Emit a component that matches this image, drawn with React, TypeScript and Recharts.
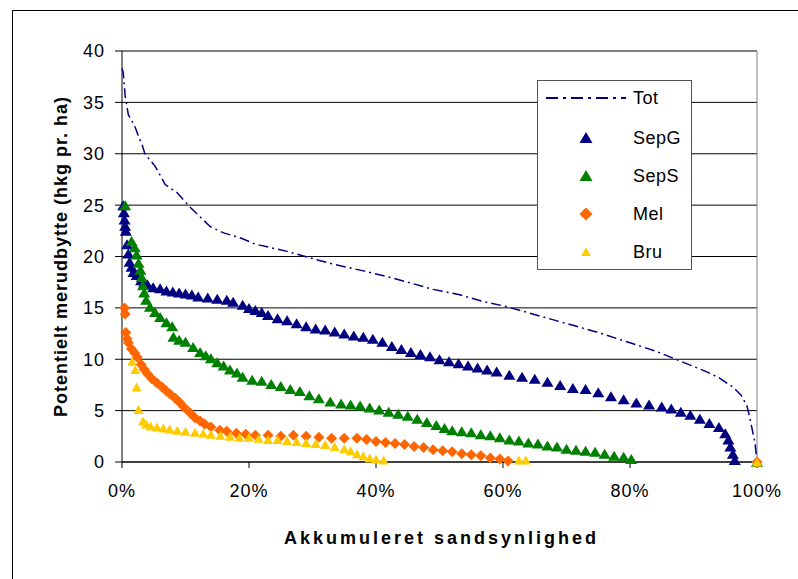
import { ScatterChart, Scatter, XAxis, YAxis, CartesianGrid, ReferenceLine } from 'recharts';

// Akkumuleret sandsynlighed (%) , merudbytte (hkg pr. ha)
const tot: [number, number][] = [
  [0, 38.3], [0.2, 37.9], [0.5, 35.6], [1, 33.8], [2, 32.7], [2.6, 31.7], [3.2, 30.8], [3.6, 30],
  [5.2, 28.8], [6.8, 27], [8.7, 26.2], [10.4, 25], [13.9, 22.9], [16, 22.3], [18.7, 21.8], [21, 21.2],
  [26, 20.5], [30, 19.8], [33, 19.3], [38, 18.6], [42, 18], [45, 17.5], [49, 16.8], [53, 16.3],
  [57, 15.6], [60, 15.2], [63, 14.7], [67, 14], [71, 13.3], [75, 12.6], [80, 11.6], [84, 10.8],
  [88, 9.8], [92, 8.8], [94, 8.2], [96.2, 7.3], [97.5, 6.5], [98.4, 5.5], [98.8, 4.5], [99.3, 3],
  [99.7, 1.8], [100, 0],
];

const sepG: [number, number][] = [
  [0.2, 25], [0.3, 24.3], [0.4, 23.6], [0.5, 23], [0.6, 22.5], [0.8, 21.2], [1, 20.3], [1.2, 19.5],
  [1.5, 19], [1.8, 18.5], [2.3, 18.2], [3, 17.7], [3.5, 17.5], [4, 17.3], [4.9, 17], [6, 16.9],
  [7, 16.7], [8, 16.6], [9, 16.5], [10, 16.4], [11, 16.3], [12, 16.1], [13.5, 16], [15, 15.9],
  [16.5, 15.8], [17.5, 15.6], [19, 15.3], [20, 15], [21, 14.8], [22, 14.6], [23, 14.3], [24.5, 14],
  [26, 13.8], [27.5, 13.5], [29, 13.2], [30.5, 13], [32, 12.9], [33.5, 12.7], [35, 12.5], [36.5, 12.3],
  [38, 12.2], [39.5, 12], [41, 11.7], [42.5, 11.3], [44, 11], [45.5, 10.7], [47, 10.5], [48.5, 10.3],
  [50, 10], [51.5, 9.8], [53, 9.6], [54.5, 9.4], [56, 9.2], [57.5, 9], [59, 8.8], [61, 8.5],
  [63, 8.3], [65, 8.1], [67, 7.8], [69, 7.5], [71, 7.2], [73, 7.1], [75, 6.8], [77, 6.4],
  [79, 6.1], [81, 5.8], [83, 5.6], [85, 5.4], [86.5, 5.2], [88, 4.9], [89.5, 4.6], [91, 4.2],
  [92.5, 3.8], [94, 3.4], [95, 2.8], [95.5, 2.2], [95.8, 1.5], [96.2, 0.8], [96.5, 0.2],
];

const sepS: [number, number][] = [
  [0.5, 25], [1.5, 21.5], [2, 20.9], [2.3, 20.2], [2.6, 19.4], [2.9, 18.7], [3.1, 18], [3.3, 17.2],
  [3.5, 16.5], [3.8, 15.8], [4.4, 15.1], [5.2, 14.6], [6, 14.1], [7, 13.6], [7.9, 13.2], [8.1, 12.2],
  [9, 11.9], [10, 11.7], [11.2, 11.2], [12.3, 10.7], [13.2, 10.4], [14, 10.1], [15, 9.7], [16, 9.4],
  [17, 9], [18.1, 8.7], [19, 8.3], [20.5, 8], [22, 7.9], [23.5, 7.6], [25, 7.4], [26.5, 7.1],
  [28, 6.9], [29.5, 6.5], [31, 6.2], [32.8, 5.9], [34.5, 5.7], [36, 5.6], [37.5, 5.5], [39, 5.3],
  [40.5, 5.1], [42, 4.9], [43.5, 4.7], [45, 4.5], [46.5, 4.2], [48, 3.9], [49.5, 3.6], [50.8, 3.3],
  [52, 3.1], [53.5, 3], [55, 2.9], [56.5, 2.7], [58, 2.6], [59.5, 2.4], [61, 2.2], [62.5, 2.1],
  [64, 1.9], [65.5, 1.8], [67, 1.6], [68.5, 1.5], [70, 1.3], [71.5, 1.2], [73, 1.1], [74.5, 1],
  [76, 0.8], [77.5, 0.6], [79, 0.5], [80.2, 0.3], [100, 0],
];

const mel: [number, number][] = [
  [0.4, 15], [0.5, 14.4], [0.6, 12.6], [0.8, 12], [1, 11.6], [1.5, 11], [2, 10.6], [2.4, 10.2],
  [3, 9.5], [3.5, 9], [4, 8.6], [4.7, 8.1], [5.5, 7.7], [6.3, 7.3], [7, 6.9], [7.6, 6.6],
  [8.4, 6.2], [9.1, 5.8], [9.8, 5.3], [10.7, 4.8], [11.5, 4.3], [12.3, 4], [13, 3.7], [14, 3.4],
  [15.4, 3.1], [16.5, 3], [18, 2.8], [19.5, 2.7], [21, 2.6], [23, 2.6], [25, 2.5], [27, 2.6],
  [29, 2.5], [31, 2.4], [33, 2.3], [35, 2.3], [37, 2.3], [38.5, 2.2], [40, 2], [41.5, 1.9],
  [43, 1.8], [44.5, 1.7], [46, 1.5], [47.5, 1.4], [49, 1.2], [50.5, 1.1], [52, 1], [53.5, 0.8],
  [55, 0.7], [56.5, 0.6], [58, 0.4], [59.5, 0.3], [60.8, 0.1], [100, 0],
];

const bru: [number, number][] = [
  [1.6, 9.8], [2.1, 9], [2.3, 7.3], [2.6, 5.1], [3.3, 4], [3.8, 3.7], [4.5, 3.5], [5.5, 3.4],
  [6.5, 3.3], [7.5, 3.2], [8.7, 3.1], [10, 3], [11.5, 2.9], [12.8, 2.8], [14, 2.7], [15.5, 2.6],
  [17, 2.5], [18.5, 2.4], [20, 2.4], [21.5, 2.3], [23, 2.2], [24.5, 2.2], [26, 2.1], [27.5, 2],
  [29, 1.9], [30.5, 1.8], [32, 1.7], [33.5, 1.5], [35, 1.3], [36, 1.1], [37, 0.8], [38, 0.6],
  [39, 0.4], [40, 0.3], [41.2, 0.2], [62.5, 0.2], [63.6, 0.2], [100, 0],
];

const xTicks = [0, 20, 40, 60, 80, 100];
const yTicks = [0, 5, 10, 15, 20, 25, 30, 35, 40];

const NAVY = '#000080';
const GREEN = '#008000';
const ORANGE = '#FF6600';
const YELLOW = '#FFCC00';
const FONT = '"Liberation Sans", Arial, sans-serif';

const toPoints = (arr: [number, number][]) => arr.map(([x, y]) => ({ x, y }));

const triangle = (color: string, w: number, h: number) => (props: any) => {
  const { cx, cy } = props;
  if (cx == null || cy == null) return <g />;
  return (
    <polygon
      points={`${cx},${cy - h / 2} ${cx + w / 2},${cy + h / 2} ${cx - w / 2},${cy + h / 2}`}
      fill={color}
    />
  );
};

const diamond = (color: string, s: number) => (props: any) => {
  const { cx, cy } = props;
  if (cx == null || cy == null) return <g />;
  return (
    <polygon
      points={`${cx},${cy - s / 2} ${cx + s / 2},${cy} ${cx},${cy + s / 2} ${cx - s / 2},${cy}`}
      fill={color}
    />
  );
};

const noDot = () => <g />;

function LegendBox() {
  const rows = [
    { name: 'SepG', icon: <polygon points="0,-6 6.5,5 -6.5,5" fill={NAVY} /> },
    { name: 'SepS', icon: <polygon points="0,-6 6.5,5 -6.5,5" fill={GREEN} /> },
    { name: 'Mel', icon: <polygon points="0,-6.5 6.5,0 0,6.5 -6.5,0" fill={ORANGE} /> },
    { name: 'Bru', icon: <polygon points="0,-4.5 5,4 -5,4" fill={YELLOW} /> },
  ];
  return (
    <div
      style={{
        position: 'absolute',
        left: 537,
        top: 80,
        width: 153,
        height: 188,
        border: '1px solid #555',
        background: '#fff',
        fontFamily: FONT,
        fontSize: 18,
        color: '#000',
      }}
    >
      <svg width={153} height={188} style={{ position: 'absolute', left: 0, top: 0 }}>
        <line x1={8} x2={88} y1={17} y2={17} stroke={NAVY} strokeWidth={2} strokeDasharray="12 5 3 5" />
        <text x={95} y={23} fontSize={18} fontFamily={FONT} letterSpacing={0.5}>Tot</text>
        {rows.map((r, i) => (
          <g key={r.name}>
            <g transform={`translate(48, ${57 + i * 38})`}>{r.icon}</g>
            <text x={95} y={63 + i * 38} fontSize={18} fontFamily={FONT} letterSpacing={0.5}>{r.name}</text>
          </g>
        ))}
      </svg>
    </div>
  );
}

export default function App() {
  return (
    <div style={{ position: 'absolute', left: 0, top: 0, width: 798, height: 579, background: '#fff', overflow: 'hidden' }}>
      <div style={{ position: 'absolute', left: 12, top: 10, width: 900, height: 700, border: '1px solid #000' }} />
      <div style={{ position: 'absolute', left: 0, top: 0 }}>
        <ScatterChart width={798} height={579} margin={{ top: 51, right: 41, bottom: 0, left: 0 }}>
          <CartesianGrid horizontal vertical={false} stroke="#000" strokeWidth={1} />
          <XAxis
            type="number"
            dataKey="x"
            domain={[0, 100]}
            ticks={xTicks}
            tickFormatter={(v: number) => `${v}%`}
            height={117}
            tickSize={6}
            tickMargin={16}
            axisLine={{ stroke: '#000' }}
            tickLine={{ stroke: '#000' }}
            tick={{ fill: '#000', fontSize: 18, fontFamily: FONT, letterSpacing: 1 }}
            label={{
              value: 'Akkumuleret sandsynlighed',
              position: 'center',
              dy: 17,
              dx: 2,
              style: { fontWeight: 'bold', fontSize: 18, fontFamily: FONT, fill: '#000', letterSpacing: '3px' },
            }}
          />
          <YAxis
            type="number"
            dataKey="y"
            domain={[0, 40]}
            ticks={yTicks}
            width={122}
            tickSize={7}
            tickMargin={10}
            axisLine={{ stroke: '#000' }}
            tickLine={{ stroke: '#000' }}
            tick={{ fill: '#000', fontSize: 18, fontFamily: FONT, letterSpacing: 1 }}
            label={{
              value: 'Potentielt merudbytte (hkg pr. ha)',
              position: 'center',
              angle: -90,
              style: { fontWeight: 'bold', fontSize: 18, fontFamily: FONT, fill: '#000', letterSpacing: '1px' },
            }}
          />
          <ReferenceLine y={40} stroke="#808080" />
          <ReferenceLine x={100} stroke="#808080" />
          <Scatter
            name="Tot"
            data={toPoints(tot)}
            line={{ stroke: NAVY, strokeWidth: 1.5, strokeDasharray: '10 4 2 4' }}
            shape={noDot}
            isAnimationActive={false}
          />
          <Scatter name="SepG" data={toPoints(sepG)} shape={triangle(NAVY, 12, 10)} isAnimationActive={false} />
          <Scatter name="SepS" data={toPoints(sepS)} shape={triangle(GREEN, 12, 10)} isAnimationActive={false} />
          <Scatter name="Mel" data={toPoints(mel)} shape={diamond(ORANGE, 11)} isAnimationActive={false} />
          <Scatter name="Bru" data={toPoints(bru)} shape={triangle(YELLOW, 10, 9)} isAnimationActive={false} />
        </ScatterChart>
      </div>
      <LegendBox />
    </div>
  );
}
